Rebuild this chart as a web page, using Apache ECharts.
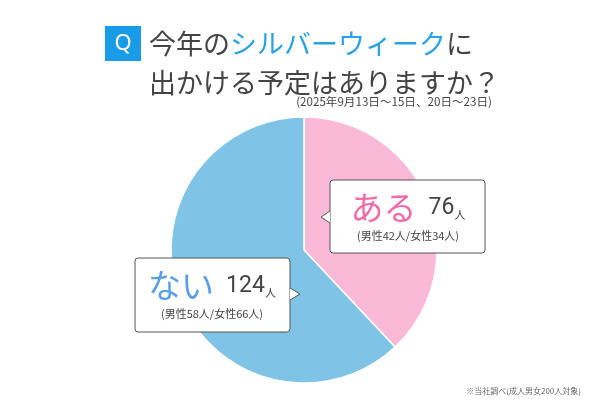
<!DOCTYPE html>
<html><head><meta charset="utf-8">
<script src="https://cdn.jsdelivr.net/npm/echarts@6/dist/echarts.min.js"></script>
<style>html,body{margin:0;padding:0;background:#fff}#c{width:600px;height:400px}</style>
</head><body><div id="c"></div>
<script>
const categories = ['ある', 'ない'];
const totals = [76, 124];
const male = [42, 58];
const female = [34, 66];
const titleLine1 = ['今年の', 'シルバーウィーク', 'に'];
const titleLine2 = '出かける予定はありますか？';
const subtitle = '(2025年9月13日〜15日、20日〜23日)';
const footnote = '※当社調べ(成人男女200人対象)';

const FONT = '"Noto Sans CJK JP", "Noto Sans", sans-serif';
const sliceColors = ['#f9b9d7', '#7fc4e6'];
const wordColors = ['#f26aa9', '#5b9ee8'];

const chart = echarts.init(document.getElementById('c'), null, {renderer: 'canvas'});

function callout(box, tip, side) {
  const els = [];
  const {x, y, w, h} = box;
  els.push({type: 'rect', shape: {x, y, width: w, height: h, r: 3},
    style: {fill: '#fff', stroke: '#555', lineWidth: 1}, z: 10});
  const ex = side === 'left' ? x : x + w;
  const b1 = tip[1] - 6, b2 = tip[1] + 6;
  els.push({type: 'polygon', shape: {points: [[ex, b1], tip, [ex, b2]]},
    style: {fill: '#fff'}, z: 11});
  els.push({type: 'polyline', shape: {points: [[ex, b1], tip, [ex, b2]]},
    style: {stroke: '#555', lineWidth: 1, fill: null}, z: 12});
  return els;
}

const boxA = {x: 330, y: 180, w: 155, h: 73};
const boxB = {x: 135, y: 258, w: 155, h: 74};

const graphics = [
  {type: 'rect', shape: {x: 105, y: 26, width: 36, height: 35}, style: {fill: '#1a9be8'}},
  {type: 'text', x: 123, y: 44, style: {text: 'Q', fill: '#fff', font: '22px "Noto Sans", sans-serif', align: 'center', verticalAlign: 'middle'}},
  {type: 'text', x: 149, y: 44, style: {
    text: '{a|' + titleLine1[0] + '}{b|' + titleLine1[1] + '}{a|' + titleLine1[2] + '}',
    verticalAlign: 'middle',
    rich: {a: {fontSize: 27, fontFamily: FONT, fill: '#444'}, b: {fontSize: 27, fontFamily: FONT, fill: '#29a3e3'}}
  }},
  {type: 'text', x: 149, y: 83, style: {text: titleLine2, verticalAlign: 'middle', font: '27px ' + FONT, fill: '#444'}},
  {type: 'text', x: 492, y: 102, style: {text: subtitle, align: 'right', verticalAlign: 'middle', font: '11.6px ' + FONT, fill: '#444'}},
  {type: 'text', x: 581, y: 391, style: {text: footnote, align: 'right', verticalAlign: 'middle', font: '8px ' + FONT, fill: '#666'}},
  ...callout(boxA, [321, 217], 'left'),
  ...callout(boxB, [300, 294], 'right'),
];

function boxText(i, box, cx) {
  return [
    {type: 'text', x: cx, y: box.y + 44, z: 13, style: {
      text: '{w|' + categories[i] + '}{n|' + totals[i] + '}{p|人}',
      align: 'center', verticalAlign: 'bottom',
      rich: {
        w: {fontSize: 33, fontFamily: FONT, fill: wordColors[i], verticalAlign: 'bottom'},
        n: {fontSize: 23, fontFamily: 'Roboto, "Noto Sans", sans-serif', fill: '#444', verticalAlign: 'bottom', padding: [0, 0, 4, 12]},
        p: {fontSize: 11, fontFamily: FONT, fill: '#444', verticalAlign: 'bottom', padding: [0, 0, 4, 0]}
      }
    }},
    {type: 'text', x: cx, y: box.y + 56, z: 13, style: {
      text: '(男性' + male[i] + '人/女性' + female[i] + '人)',
      align: 'center', verticalAlign: 'middle', font: '11px ' + FONT, fill: '#444'
    }}
  ];
}
graphics.push(...boxText(0, boxA, 408));
graphics.push(...boxText(1, boxB, 212));

chart.setOption({
  backgroundColor: '#fff',
  animation: false,
  series: [{
    type: 'pie',
    center: [304, 250],
    radius: [0, 133],
    startAngle: 90,
    clockwise: true,
    label: {show: false},
    labelLine: {show: false},
    itemStyle: {borderColor: '#fff', borderWidth: 1.5},
    emphasis: {disabled: true},
    data: categories.map((c, i) => ({name: c, value: totals[i], itemStyle: {color: sliceColors[i]}}))
  }],
  graphic: graphics
});
</script></body></html>
